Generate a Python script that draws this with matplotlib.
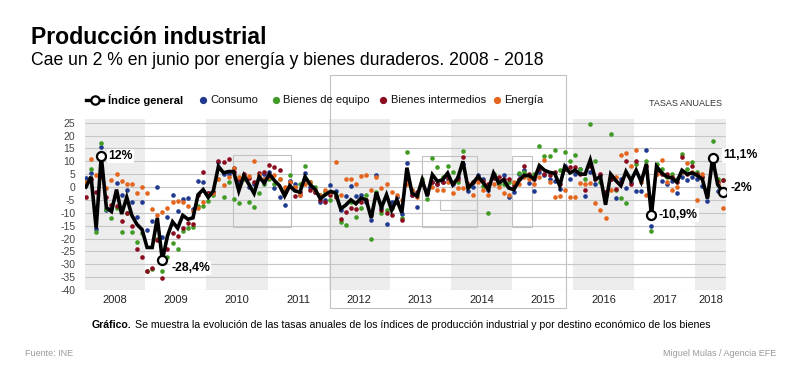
import matplotlib
matplotlib.use('Agg')
import matplotlib.pyplot as plt
import numpy as np
from matplotlib.lines import Line2D
from matplotlib.patches import Rectangle

plt.rcParams['font.family'] = ['Liberation Sans', 'DejaVu Sans']

# Data: annual rates (%), monthly Jan 2008 - Jun 2018
years = list(range(2008, 2019))
year_labels = [str(y) for y in years]

indice_general = [
    0, 4, -16, 12, -8, -9.5, -1, -10.5, -4, -11, -14.5, -16.5,
    -23.5, -23.5, -12, -28.4, -19, -13.5, -16, -11, -12.5, -12, -3, -1,
    -4, -1.5, 8, 5.5, 6, 6, -1.5, 4.5, 1, -2.5, 4, 1.5,
    5, 2.5, 0.5, -3.5, 0.5, -1.5, -2, 4, 1, -1, -4.5, -3,
    -1.7, -2.3, -8.5, -7, -5, -6.5, -4.3, -5, -12, -2, -8, -3,
    -9, -5, -10, 7.5, -2.3, -3.6, 2.8, -3.6, 4.8, 2.2, 2.8, 5.4,
    0.9, 3.5, 10, -0.4, 1.6, 4.1, 1.6, -1, 5.4, 1.6, 2.8, -0.4,
    -1, 2.5, 4.5, 4.5, 3, 8.3, 6.5, 5.7, 5.3, 0.5, 8, 5.5,
    6.5, 5, 5, 10.5, 3, 4, -6.9, 5, 2.5, 0.5, 6, 2.5,
    6.5, 2, 9, -10.9, 8, 5.5, 4, 3.5, 2, 6.5, 5, 5.5,
    4.5, 3, -4.5, 11.1, 1, -2,
]
consumo = [
    3.4, 5.6, -16.5, 15.5, -9, -8, 1.7, -3, -1, -6, -11.5, -5.7,
    -16.6, -13.2, 0, -19.6, -11.8, -3.1, -9.5, -4.8, -4.4, -8.6, 2.5, 2.1,
    -2.5, -2, 9.7, 5, 5, 7.4, 2, 4, 0, 1, 3.5, 5,
    6, -0.4, -4, -7.1, 2.2, 1, -3, 5.5, 0, -2, -6, -5,
    0.9, -1.4, -9, -3.4, 0.3, -3.5, -3, -6, -13, 4.8, -8, -14.2,
    -6, -4, -10.6, 9.5, -3, -7.6, 1, -2, 2, 1, 2, 3,
    1, 4, 9, -1.5, 0, 4.5, 3, -1, 4, 2, 4.5, -4,
    -2, 5, 6.7, 1.6, -1.7, 6, 4.5, 3, 2.5, -0.8, 8, 3,
    5, 7, -3.4, 6, 1.3, 4.7, -2, 3, -4.3, 3, -0.5, 2,
    -1.7, -1.7, 14.3, -15, 6.4, 2.2, 1, 2.2, -2.3, 4, 2.8, 4,
    3, 0.5, -5.3, 8, -1.7, -2,
]
bienes_equipo = [
    2, 6.9, -17.3, 17, -8.7, -12.1, -8, -17.5, -10, -17.5, -21.2, -18,
    -32.8, -32, -20, -32.6, -27.3, -21.8, -24.2, -17, -16, -15.4, -7.5, -7.3,
    -5.6, -3, 3, -3.9, 2, -4.7, -6.2, 3, -6, -7.9, -2.3, 1,
    3, 1, 3.1, -1, 4.8, 0, 1, 8, 2, 0, -3, -2,
    -5, -3, -13.6, -14.9, -6, -11.6, -8, -3, -20, -2, -10, -9,
    -8, -6, -12, 13.5, -1, -3, 3, -4.5, 11.2, 7.8, 4, 8.2,
    6, 2, 14, 0, 2, 3, 0.5, -10, 5, 1, 1, 2,
    1, 5.4, 6, 4, 5, 15.8, 12.2, 12.2, 14.2, 6.7, 13.5, 10.2,
    12.5, 7, 3, 24.5, 10.2, 1.8, -3, 20.4, -1, -4.3, -6.3, 3,
    9, 3, 10, -17, 9, 7, 4, 5, 3, 12.9, 7, 9.7,
    6, 4, -3, 17.8, 3, 2.8,
]
bienes_intermedios = [
    -4, 3, -2, 5, -4, -7, -7.5, -13.2, -10, -15, -24.2, -27,
    -32.5, -31.5, -20.5, -35.4, -24, -17.7, -19.2, -15.9, -13.8, -14.4, -3, 6,
    -2.5, -2, 10, 9.6, 11, 6, 3, 5, 3.5, 2, 5.4, 6,
    8.7, 7.6, 6.5, -2, 2, -3.6, -2, 3, -1, -2, -5, -6,
    -3, -4, -12.3, -9.7, -8, -8.5, -6, -5, -11, -4, -9, -10,
    -11, -6, -12.8, 3, -3, -2, 2, -2.5, 2, 1, 2, 4,
    1.5, 3, 11.5, 1, 2, 3, 2.5, 1, 3.5, 4, 3, 3,
    0.5, 3, 8, 5, 3, 7, 5, 4.5, 5.8, 1, 7, 7.6,
    7.6, 5, -1.2, 8, 3, 5, -2, 3, -0.7, 2, 10, 1,
    10, 3, 8, -8, 7, 5, 5, 4, 2, 11.5, 5, 8,
    5, 4, -2, 9, 2, 2.8,
]
energia = [
    2, 11, 4.8, 4, -0.5, 2.9, 5.1, 2.3, 1.3, 1.3, -2.4, -0.1,
    -2.4, -8.5, -10.7, -9.8, -8, -6, -5.5, -6, -7.5, -9.2, -8, -6,
    -3, -2.5, 3, 0.9, 4, 7.4, 4, 3.8, 4.1, 10, 4.8, 3,
    4, 4.5, 3, 0, 2, 0, -3, 1, 2, -1, -3, -1,
    -2, 9.6, -3, 3.1, 3.1, 1, 4.1, 4.5, -1, 4, -0.5, 1.3,
    -2, -3, -5, 1, -1, -4, 1.5, -2, 0, -1.2, -1.2, 2,
    -2.5, -0.5, -0.3, 1, -3, 2, -1, -3, 1, 0, -2.3, -3,
    2, 1, 4, 3, 1, 4, 10.6, 2, -4, -3.6, -1, -4,
    -4, 1.6, 1, 1.4, -6.3, -8.9, -11.9, -1, 4, 12.5, 13.4, 8,
    14.5, 2, -3, -4, 5, 10.6, 2, -1, 0, 6, 9.3, 6,
    -4.9, 5, -3, 10, 1, -8.2,
]

series = [
    ('Consumo', consumo, '#1f3a8f'),
    ('Bienes de equipo', bienes_equipo, '#3f9b23'),
    ('Bienes intermedios', bienes_intermedios, '#8c0c1f'),
    ('Energía', energia, '#e4651e'),
]

# highlighted points: (month index, label, dx px, dy px)
highlights = [(3, '12%', 7, 0), (15, '-28,4%', 9, -8), (111, '-10,9%', 7, 0),
              (123, '11,1%', 11, 3), (125, '-2%', 8, 4)]

W, H = 800, 384
fig = plt.figure(figsize=(W / 100, H / 100), dpi=100)


def fx(px):
    return px / W


def fy(py):
    return 1 - py / H


ax = fig.add_axes([fx(85), fy(290), fx(726) - fx(85), fy(119.3) - fy(290)])
x = 2008 + np.arange(len(indice_general)) / 12
ax.set_xlim(2007.984, 2018.47)
ax.set_ylim(-40, 26.3)

# alternating year bands
for k, yr in enumerate(years):
    if k % 2 == 0:
        ax.axvspan(yr - 0.03, min(yr + 0.97, 2018.47), color='#ededed', lw=0, zorder=0)

for v in range(-40, 26, 5):
    ax.axhline(v, color='#c6c6c6', lw=0.8, zorder=1)

for name, vals, col in series:
    ax.scatter(x, vals, s=11, color=col, linewidths=0, zorder=3)

ax.plot(x, indice_general, color='black', lw=2.6, zorder=5, solid_joinstyle='miter')

for i, lab, dx, dy in highlights:
    ax.plot(x[i], indice_general[i], 'o', ms=6.5, mfc='white', mec='black', mew=1.6, zorder=6)
    ax.annotate(lab, (x[i], indice_general[i]), xytext=(dx * 0.72, dy * 0.72),
                textcoords='offset points', ha='left', va='center', fontsize=8.8,
                fontweight='bold', zorder=7,
                bbox=dict(boxstyle='square,pad=0.1', fc='white', ec='none'))

ax.set_yticks(range(-40, 26, 5))
ax.set_yticklabels([str(v) for v in range(-40, 26, 5)], fontsize=7.5, color='#444444')
ax.set_xticks([yr + 0.47 for yr in years[:-1]] + [2018.22])
ax.set_xticklabels(year_labels, fontsize=8, color='#222222')
ax.tick_params(axis='y', length=0, pad=7)
ax.tick_params(axis='x', length=0, pad=3.5)
for s in ax.spines.values():
    s.set_visible(False)

# faint frame artifacts from the original graphic
boxes = [(330, 75, 566, 308), (233, 155, 291, 227), (421.5, 156.5, 476.7, 226.5),
         (440, 200, 476.7, 210), (512, 156.5, 531.7, 226.5)]
for x0, y0, x1, y1 in boxes:
    ax.add_patch(Rectangle((fx(x0), fy(y1)), fx(x1) - fx(x0), fy(y0) - fy(y1),
                           transform=fig.transFigure, fill=False, ec='#c2c2c2',
                           lw=0.8, clip_on=False, zorder=2))

# titles
fig.text(fx(31), fy(44), 'Producción industrial', fontsize=16.6, fontweight='bold',
         va='baseline')
fig.text(fx(31), fy(65), 'Cae un 2 % en junio por energía y bienes duraderos. 2008 - 2018',
         fontsize=12.7, va='baseline')

# legend
ly = fy(100)
fig.add_artist(Line2D([fx(86), fx(103)], [ly, ly], color='black', lw=2.4,
                      transform=fig.transFigure))
fig.add_artist(Line2D([fx(94.5)], [ly], marker='o', ms=6, mfc='white', mec='black',
                      mew=1.6, transform=fig.transFigure))
fig.text(fx(108), ly, 'Índice general', fontsize=8, fontweight='bold', va='center')
leg_pos = [(203, 210), (276, 283), (383, 391), (497, 504)]
for (name, vals, col), (dxp, txp) in zip(series, leg_pos):
    fig.add_artist(Line2D([fx(dxp)], [ly], marker='o', ms=4.2, color=col, lw=0,
                          transform=fig.transFigure))
    fig.text(fx(txp), ly, name, fontsize=8, va='center', color='#111111')
fig.text(fx(722), fy(104), 'TASAS ANUALES', fontsize=6.5, ha='right', va='center', color='#333333')

# caption
fig.canvas.draw()
r = fig.canvas.get_renderer()
t1 = fig.text(fx(92), fy(328), 'Gráfico.', fontsize=7.6, fontweight='bold', va='baseline')
w1 = t1.get_window_extent(r).width
fig.text(fx(92 + w1 + 3), fy(328),
         'Se muestra la evolución de las tasas anuales de los índices de producción industrial y por destino económico de los bienes',
         fontsize=7.6, va='baseline')

fig.text(fx(25), fy(353), 'Fuente: INE', fontsize=6.5, color='#999999', va='center')
fig.text(fx(776), fy(353), 'Miguel Mulas / Agencia EFE', fontsize=6.5, color='#999999',
         ha='right', va='center')

fig.savefig('out.png', dpi=100, facecolor='white')
